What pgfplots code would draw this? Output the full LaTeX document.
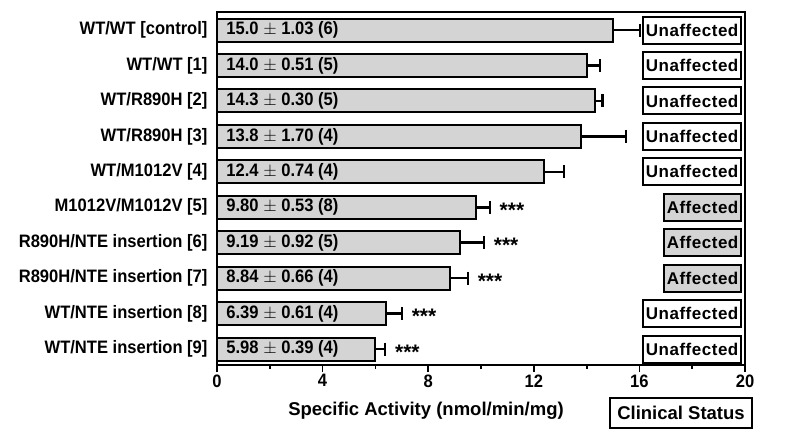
\documentclass[border=0pt]{standalone}
\usepackage{fontspec}
\setmainfont{Liberation Sans}
\newfontfamily\spaced[LetterSpace=3]{Liberation Sans}
\newfontfamily\narrow[FakeStretch=0.92]{Liberation Sans}
\usepackage{pgfplots}
\pgfplotsset{compat=1.18}
\definecolor{barfill}{RGB}{212,212,212}
\newcommand{\lab}{\narrow\fontsize{18}{21}\selectfont\bfseries}
\newcommand{\stat}{\fontsize{17}{20}\selectfont\bfseries}
\newcommand{\astf}{\fontsize{21}{24}\selectfont\bfseries}
\begin{document}
\begin{tikzpicture}
\useasboundingbox (-217pt,-76pt) rectangle (583pt,365pt);
\begin{axis}[at={(0,0)}, anchor=south west, scale only axis,
  width=528pt, height=353pt,
  xmin=0, xmax=20, ymin=-0.51, ymax=9.45, y dir=reverse,
  bar width=23pt, bar shift=0pt,
  xtick={0,4,...,20}, minor x tick num=1, tick align=outside, xtick pos=bottom,
  major tick length=7pt, minor tick length=4pt,
  every tick/.style={black, line width=1.8pt},
  ytick={0,...,9},
  yticklabels={WT/WT [control], WT/WT [1], WT/R890H [2], WT/R890H [3], WT/M1012V [4], M1012V/M1012V [5], R890H/NTE insertion [6], R890H/NTE insertion [7], WT/NTE insertion [8], WT/NTE insertion [9]},
  ytick style={draw=none},
  axis line style={line width=2pt},
  ticklabel style={font=\lab},
  yticklabel style={xshift=1pt},
  xticklabel style={yshift=1pt},
  /pgf/number format/assume math mode=true,
  unbounded coords=jump,
  clip=false,
]
% error bars (mean to mean + SEM)
\addplot[black, line width=2.6pt, mark=none] coordinates {
(15.0,0) (16.03,0) (nan,nan)
(14.0,1) (14.51,1) (nan,nan)
(14.3,2) (14.60,2) (nan,nan)
(13.8,3) (15.50,3) (nan,nan)
(12.4,4) (13.14,4) (nan,nan)
(9.80,5) (10.33,5) (nan,nan)
(9.19,6) (10.11,6) (nan,nan)
(8.84,7) (9.50,7) (nan,nan)
(6.39,8) (7.00,8) (nan,nan)
(5.98,9) (6.37,9)
};
\addplot[only marks, mark=|, mark size=6.5pt, mark options={line width=2.2pt, black}] coordinates {
(16.03,0) (14.51,1) (14.60,2) (15.50,3) (13.14,4) (10.33,5) (10.11,6) (9.50,7) (7.00,8) (6.37,9)
};
\addplot[xbar, fill=barfill, draw=black, line width=2pt] coordinates {
(15.0,0) (14.0,1) (14.3,2) (13.8,3) (12.4,4) (9.80,5) (9.19,6) (8.84,7) (6.39,8) (5.98,9)
};
\foreach \i/\t in {0/{15.0 $\pm$ 1.03 (6)},1/{14.0 $\pm$ 0.51 (5)},2/{14.3 $\pm$ 0.30 (5)},3/{13.8 $\pm$ 1.70 (4)},4/{12.4 $\pm$ 0.74 (4)},5/{9.80 $\pm$ 0.53 (8)},6/{9.19 $\pm$ 0.92 (5)},7/{8.84 $\pm$ 0.66 (4)},8/{6.39 $\pm$ 0.61 (4)},9/{5.98 $\pm$ 0.39 (4)}}{
  \edef\tmp{\noexpand\node[anchor=west, font=\noexpand\lab, inner sep=0pt] at (axis cs:0.35,\i) {\unexpanded\expandafter{\t}};}
  \tmp
}
\foreach \i/\x in {5/10.70,6/10.48,7/9.87,8/7.37,9/6.74}{
  \edef\tmp{\noexpand\node[anchor=west, font=\noexpand\astf, inner sep=0pt] at (axis cs:\x,\i+0.08) {***};}
  \tmp
}
\foreach \i in {0,1,2,3,4,8,9}{
  \edef\tmp{\noexpand\node[draw, line width=2pt, anchor=east, minimum height=27pt, inner xsep=3pt, fill=white, font=\noexpand\stat] at (axis cs:19.9,\i) {\noexpand\spaced Unaffected};}
  \tmp
}
\foreach \i in {5,6,7}{
  \edef\tmp{\noexpand\node[draw, line width=2pt, anchor=east, minimum height=27pt, inner xsep=3pt, fill=barfill, font=\noexpand\stat] at (axis cs:19.9,\i) {\noexpand\spaced Affected};}
  \tmp
}
\end{axis}
\node[font=\fontsize{18.5}{21}\selectfont\bfseries] at (209pt,-46pt) {Specific Activity (nmol/min/mg)};
\node[draw, line width=2pt, minimum width=142pt, minimum height=30pt, font=\fontsize{18.5}{21}\selectfont\bfseries] at (464pt,-48pt) {Clinical Status};
\end{tikzpicture}
\end{document}
